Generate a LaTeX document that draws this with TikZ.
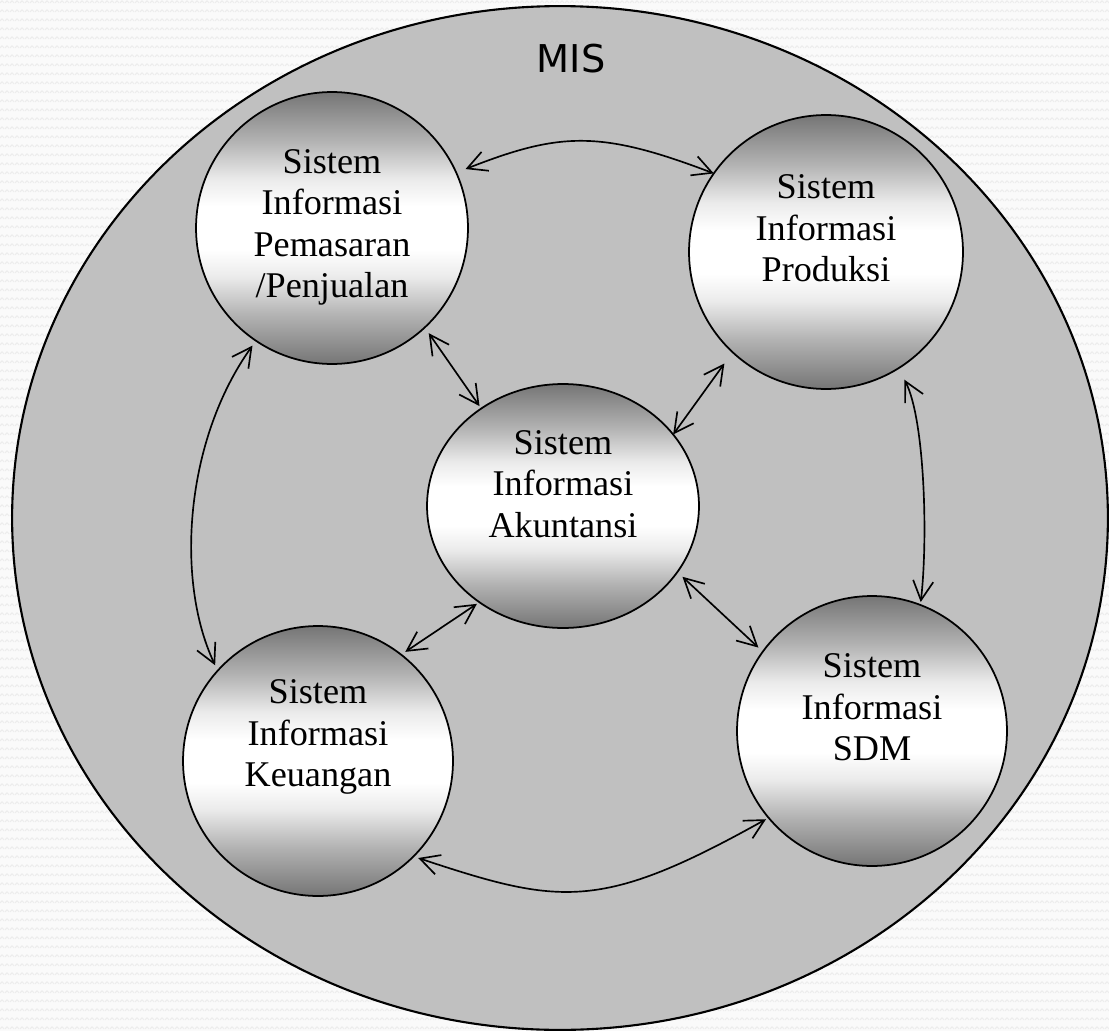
\documentclass[tikz,border=0pt]{standalone}
\usepackage{fontspec}
\setmainfont{Liberation Serif}
\newfontfamily\misfont{DejaVu Sans}
\usetikzlibrary{arrows.meta,shapes.geometric,patterns}

\definecolor{pagebg}{HTML}{FAFAFA}
\definecolor{wavecol}{HTML}{ECECEC}
\definecolor{misfill}{HTML}{C0C0C0}

% faint wavy texture of the page
\pgfdeclarepatternformonly{pagewaves}{\pgfqpoint{0pt}{0pt}}{\pgfqpoint{2.6pt}{5.1pt}}{\pgfqpoint{2.6pt}{5.1pt}}{%
  \pgfsetlinewidth{0.55pt}%
  \pgfpathmoveto{\pgfqpoint{0pt}{1.2pt}}%
  \pgfpathlineto{\pgfqpoint{1.3pt}{2.4pt}}%
  \pgfpathlineto{\pgfqpoint{2.6pt}{1.2pt}}%
  \pgfusepath{stroke}%
}

% grey -> white -> grey band used for the subsystem discs
\pgfdeclareverticalshading{orb}{100bp}{%
  rgb(0bp)=(0.46,0.46,0.46);
  rgb(25bp)=(0.46,0.46,0.46);
  rgb(34bp)=(0.7,0.7,0.7);
  rgb(41bp)=(0.92,0.92,0.92);
  rgb(46bp)=(1,1,1);
  rgb(54bp)=(1,1,1);
  rgb(59bp)=(0.92,0.92,0.92);
  rgb(66bp)=(0.7,0.7,0.7);
  rgb(75bp)=(0.46,0.46,0.46);
  rgb(100bp)=(0.46,0.46,0.46)}

\begin{document}
\begin{tikzpicture}[x=0.02cm,y=-0.02cm,
  orbnode/.style={ellipse, draw=black, line width=1pt, inner sep=0pt, outer sep=0pt, shade, shading=orb},
  orbtext/.style={font=\fontsize{20.6pt}{23.6pt}\selectfont, align=center, anchor=north, inner sep=0pt},
  link/.style={line width=0.95pt, {Straight Barb[length=11pt,width=11.5pt]}-{Straight Barb[length=11pt,width=11.5pt]}}]

  % page
  \useasboundingbox (0,0) rectangle (1109,1031);
  \fill[pagebg] (0,0) rectangle (1109,1031);
  \fill[pattern=pagewaves, pattern color=wavecol] (0,0) rectangle (1109,1031);

  % MIS boundary
  \node[ellipse, draw=black, line width=1.2pt, fill=misfill, inner sep=0pt, outer sep=0pt,
        minimum width=21.92cm, minimum height=20.48cm] (mis) at (560,518) {};
  \node[font=\misfont\fontsize{21.8pt}{26pt}\selectfont, anchor=base, inner sep=0pt] (mis-t) at (571,72) {MIS};

  % subsystems
  \node[orbnode, minimum width=5.44cm, minimum height=5.44cm] (pem) at (332,228) {};
  \node[orbnode, minimum width=5.48cm, minimum height=5.48cm] (pro) at (826,252) {};
  \node[orbnode, minimum width=5.44cm, minimum height=4.88cm] (aku) at (563,506) {};
  \node[orbnode, minimum width=5.40cm, minimum height=5.40cm] (keu) at (318,761) {};
  \node[orbnode, minimum width=5.40cm, minimum height=5.40cm] (sdm) at (872,731) {};

  \node[orbtext] (pem-t) at (332,143.9) {\strut Sistem\\Informasi\\Pemasaran\\/Penjualan};
  \node[orbtext] (pro-t) at (826,169.4) {\strut Sistem\\Informasi\\Produksi};
  \node[orbtext] (aku-t) at (563,424.9) {\strut Sistem\\Informasi\\Akuntansi};
  \node[orbtext] (keu-t) at (318,674.4) {\strut Sistem\\Informasi\\Keuangan};
  \node[orbtext] (sdm-t) at (872,648.4) {\strut Sistem\\Informasi\\SDM};

  % information flows
  \draw[link, shorten <=0.2cm] (pem.24.6) .. controls (560,132) and (600,130) .. (pro.145);
  \draw[link, shorten <=0.14cm, shorten >=0.06cm] (pem.-47) -- (aku.130.6);
  \draw[link, shorten <=0.28cm] (pro.-133.4) -- (aku.33.6);
  \draw[link, shorten <=0.12cm, shorten >=0.12cm] (pem.-124.4) .. controls (185,440) and (175,580) .. (keu.138.7);
  \draw[link, shorten <=0.26cm, shorten >=0.06cm] (pro.-58.3) .. controls (925,420) and (928,540) .. (sdm.69.6);
  \draw[link, shorten <=0.06cm, shorten >=0.1cm] (aku.-131.6) -- (keu.52.2);
  \draw[link, shorten <=0.14cm, shorten >=0.12cm] (aku.-30.3) -- (sdm.144.8);
  \draw[link, shorten <=0.1cm, shorten >=0.06cm] (keu.-45) .. controls (560,905) and (600,912) .. (sdm.-140.9);
\end{tikzpicture}
\end{document}
